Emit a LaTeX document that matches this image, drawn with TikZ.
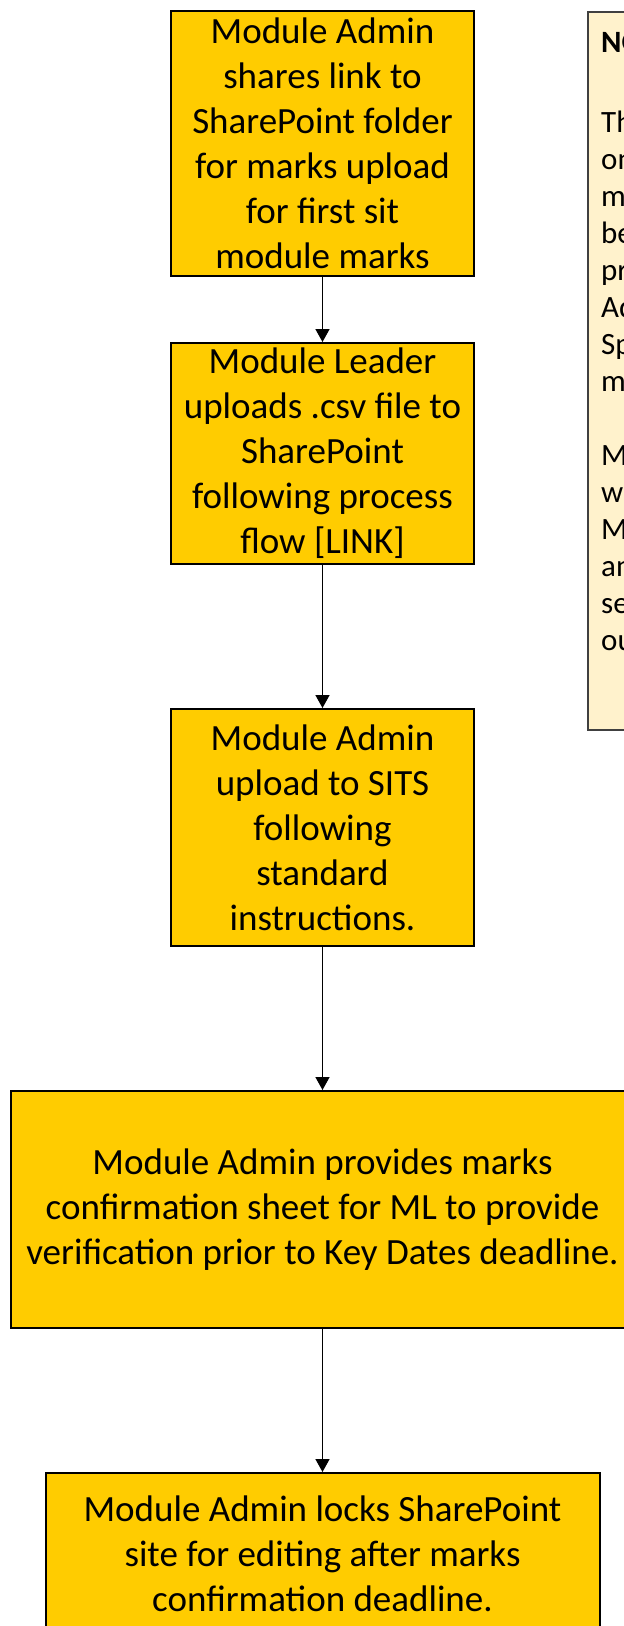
\documentclass[tikz,border=0pt]{standalone}
\usepackage{fontspec}
\setmainfont{Carlito}
\usetikzlibrary{arrows.meta}
\definecolor{caja}{HTML}{FFCC00}
\definecolor{fondonota}{HTML}{FFF2CC}
\definecolor{bordenota}{HTML}{404040}
\begin{document}
\begin{tikzpicture}[x=1pt,y=-1pt,
    paso/.style={draw=black,line width=2pt,fill=caja,align=center,inner sep=0pt,font=\fontsize{37}{45}\selectfont},
    flecha/.style={line width=1.5pt,-{Triangle[length=13pt,width=14pt]}},
    notabox/.style={draw=bordenota,line width=1.5pt,fill=fondonota,inner sep=0pt},
    notatexto/.style={inner sep=0pt,font=\fontsize{31}{37}\selectfont}]

    \def\cx{322.5}%Centro cajas
    \def\dy{37}%Interlineado nota

    \path[use as bounding box,clip] (0,0) rectangle (624,1626);

    %Nota
    \node[notabox,anchor=north west,minimum width=200pt,minimum height=718pt] (nota) at (587,11) {};
    \node[notatexto,anchor=base west] (n0) at (601,52) {\bfseries NOTE:};
    \foreach \t [count=\i from 0] in {This,on,must,be,process,Admin,Spreadsheet,marks}
        \node[notatexto,anchor=base west] (a\i) at (601,132+\i*\dy) {\t};
    \foreach \t [count=\i from 9] in {Module,week,Module,and,sent,out}
        \node[notatexto,anchor=base west] (c\i) at (601,132+\i*\dy) {\t};

    %Cajas
    \node[paso,minimum width=303pt,minimum height=265pt] (b1) at (\cx,143.5) {Module Admin\\shares link to\\SharePoint folder\\for marks upload\\for first sit\\module marks};
    \node[paso,minimum width=303pt,minimum height=221pt] (b2) at (\cx,453.5) {Module Leader\\uploads .csv file to\\SharePoint\\following process\\flow [LINK]};
    \node[paso,minimum width=303pt,minimum height=237pt] (b3) at (\cx,827.5) {Module Admin\\upload to SITS\\following\\standard\\instructions.};
    \node[paso,minimum width=624pt,minimum height=237pt] (b4) at (\cx,1209.5) {Module Admin provides marks\\confirmation sheet for ML to provide\\verification prior to Key Dates deadline.};
    \node[paso,minimum width=554pt,minimum height=162pt] (b5) at (\cx,1554) {Module Admin locks SharePoint\\site for editing after marks\\confirmation deadline.};

    %Flechas
    \draw[flecha] (b1) -- (b2);
    \draw[flecha] (b2) -- (b3);
    \draw[flecha] (b3) -- (b4);
    \draw[flecha] (b4) -- (b5);
\end{tikzpicture}
\end{document}
